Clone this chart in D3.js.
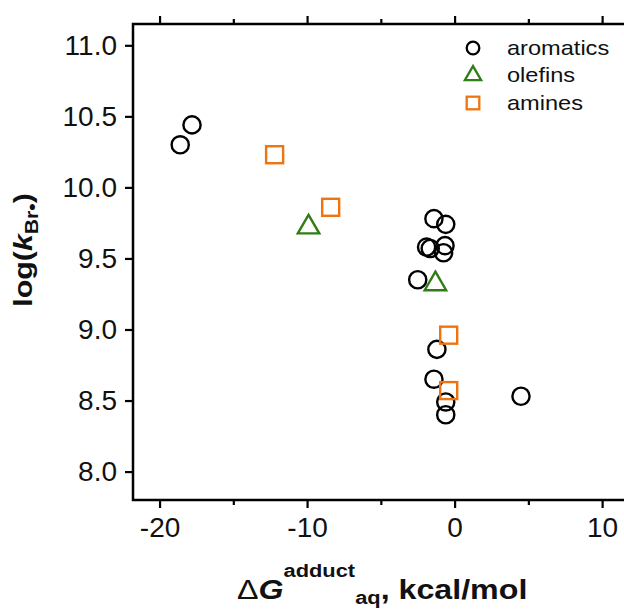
<!DOCTYPE html>
<html>
<head>
<meta charset="utf-8">
<script src="https://cdn.jsdelivr.net/npm/d3@7/dist/d3.min.js"></script>
<style>
  html, body { margin: 0; padding: 0; background: #fff; }
  svg { display: block; font-family: "Liberation Sans", Arial, sans-serif; }
</style>
</head>
<body>
<svg id="chart" width="624" height="613"></svg>
<script>
// Bromine radical rate constants vs. adduct formation free energy
const aromaticsX = [-18.6, -17.8, -1.4, -0.6, -1.9, -1.65, -0.65, -0.75, -2.5, -1.2, -1.4, -0.6, -0.6, 4.5];
const aromaticsY = [10.30, 10.44, 9.78, 9.74, 9.58, 9.57, 9.59, 9.54, 9.35, 8.86, 8.65, 8.49, 8.40, 8.53];
const olefinsX = [-9.9, -1.3];
const olefinsY = [9.72, 9.32];
const aminesX = [-12.2, -8.4, -0.4, -0.4];
const aminesY = [10.23, 9.86, 8.96, 8.57];

const xTicks = [-20, -10, 0, 10];
const xMinorTicks = [-15, -5, 5];
const yTicks = [8.0, 8.5, 9.0, 9.5, 10.0, 10.5, 11.0];
const seriesNames = ["aromatics", "olefins", "amines"];
const seriesColors = ["#000000", "#2f7d14", "#ee7410"];

const svg = d3.select("#chart");
const plotLeft = 133, plotRight = 639, plotTop = 24, plotBottom = 500;

const x = d3.scaleLinear().domain([-21.8, 12.5]).range([plotLeft, plotRight]);
const y = d3.scaleLinear().domain([7.8, 11.15]).range([plotBottom, plotTop]);

const axisColor = "#000";
const textColor = "#111";

// frame (left, top, bottom)
svg.append("path")
  .attr("d", `M${plotRight},${plotTop}H${plotLeft}V${plotBottom}H${plotRight}`)
  .attr("fill", "none").attr("stroke", axisColor).attr("stroke-width", 2.5);

function styleAxis(g) {
  g.select(".domain").remove();
  g.selectAll(".tick line").attr("stroke", axisColor).attr("stroke-width", 2.2);
  g.selectAll(".tick text").attr("fill", textColor).attr("font-size", 28)
    .attr("font-family", "Liberation Sans, Arial, sans-serif");
}

// bottom axis: majors with labels, minors unlabeled
svg.append("g").attr("transform", `translate(0,${plotBottom})`)
  .call(d3.axisBottom(x).tickValues(xTicks).tickSize(8).tickPadding(9).tickFormat(d => String(d)))
  .call(styleAxis);
svg.append("g").attr("transform", `translate(0,${plotBottom})`)
  .call(d3.axisBottom(x).tickValues(xMinorTicks).tickSize(5).tickFormat(""))
  .call(styleAxis);

// top axis ticks only
svg.append("g").attr("transform", `translate(0,${plotTop})`)
  .call(d3.axisTop(x).tickValues(xTicks).tickSize(8).tickFormat(""))
  .call(styleAxis);
svg.append("g").attr("transform", `translate(0,${plotTop})`)
  .call(d3.axisTop(x).tickValues(xMinorTicks).tickSize(5).tickFormat(""))
  .call(styleAxis);

// left axis
svg.append("g").attr("transform", `translate(${plotLeft},0)`)
  .call(d3.axisLeft(y).tickValues(yTicks).tickSize(8).tickPadding(8).tickFormat(d3.format(".1f")))
  .call(styleAxis);

// markers
const markerStroke = 2.4;
const plot = svg.append("g");

plot.selectAll("circle.arom").data(aromaticsX.map((v, i) => [v, aromaticsY[i]]))
  .join("circle").attr("class", "arom")
  .attr("cx", d => x(d[0])).attr("cy", d => y(d[1])).attr("r", 8.6)
  .attr("fill", "none").attr("stroke", seriesColors[0]).attr("stroke-width", markerStroke);

const tri = d3.symbol().type(d3.symbolTriangle).size(200);
plot.selectAll("path.olef").data(olefinsX.map((v, i) => [v, olefinsY[i]]))
  .join("path").attr("class", "olef")
  .attr("d", tri)
  .attr("transform", d => `translate(${x(d[0])},${y(d[1])})`)
  .attr("fill", "none").attr("stroke", seriesColors[1]).attr("stroke-width", markerStroke);

const sq = 17;
plot.selectAll("rect.amine").data(aminesX.map((v, i) => [v, aminesY[i]]))
  .join("rect").attr("class", "amine")
  .attr("x", d => x(d[0]) - sq / 2).attr("y", d => y(d[1]) - sq / 2)
  .attr("width", sq).attr("height", sq)
  .attr("fill", "none").attr("stroke", seriesColors[2]).attr("stroke-width", markerStroke);

// legend
const legend = svg.append("g").attr("transform", "translate(473,48)");
const rowH = 27.5;
seriesNames.forEach((name, i) => {
  const g = legend.append("g").attr("transform", `translate(0,${i * rowH})`);
  if (i === 0) {
    g.append("circle").attr("r", 6.3).attr("fill", "none")
      .attr("stroke", seriesColors[0]).attr("stroke-width", 2.3);
  } else if (i === 1) {
    g.append("path").attr("d", d3.symbol().type(d3.symbolTriangle).size(115)())
      .attr("fill", "none").attr("stroke", seriesColors[1]).attr("stroke-width", 2.3);
  } else {
    g.append("rect").attr("x", -6.3).attr("y", -6.3).attr("width", 12.6).attr("height", 12.6)
      .attr("fill", "none").attr("stroke", seriesColors[2]).attr("stroke-width", 2.3);
  }
  g.append("text").attr("x", 34).attr("y", 6.5).attr("font-size", 20)
    .attr("transform", "translate(34,0) scale(1.18,1) translate(-34,0)")
    .attr("fill", textColor).text(name);
});

// Lay out a run of text pieces left to right; each piece: text, size, weight, style, dy (baseline shift)
function textRun(parent, pieces) {
  let cursor = 0;
  pieces.forEach(p => {
    const t = parent.append("text")
      .attr("x", cursor).attr("y", p.dy || 0)
      .attr("font-size", p.size).attr("font-weight", p.weight || "bold")
      .attr("font-style", p.style || "normal").attr("fill", textColor)
      .text(p.text);
    cursor += t.node().getComputedTextLength();
  });
  return cursor;
}

// x-axis title: ΔG^adduct_aq, kcal/mol
const xTitle = svg.append("g").attr("transform", "translate(237,599) scale(1.15,1)");
textRun(xTitle, [
  { text: "Δ", size: 28, weight: "normal" },
  { text: "G", size: 28, style: "italic" },
  { text: "adduct", size: 19, dy: -22 },
  { text: "aq", size: 19, dy: 5 },
  { text: ",\u00a0kcal/mol", size: 28 }
]);

// y-axis title: log(k_Br•), rotated to read bottom-up
const yTitleG = svg.append("g");
const yInner = yTitleG.append("g");
const yLen = textRun(yInner, [
  { text: "log(", size: 26 },
  { text: "k", size: 26, style: "italic" },
  { text: "Br•", size: 18, dy: 6 },
  { text: ")", size: 26 }
]);
yTitleG.attr("transform", `translate(32,${250 + (yLen * 1.17) / 2}) rotate(-90) scale(1.17,1)`);
</script>
</body>
</html>
